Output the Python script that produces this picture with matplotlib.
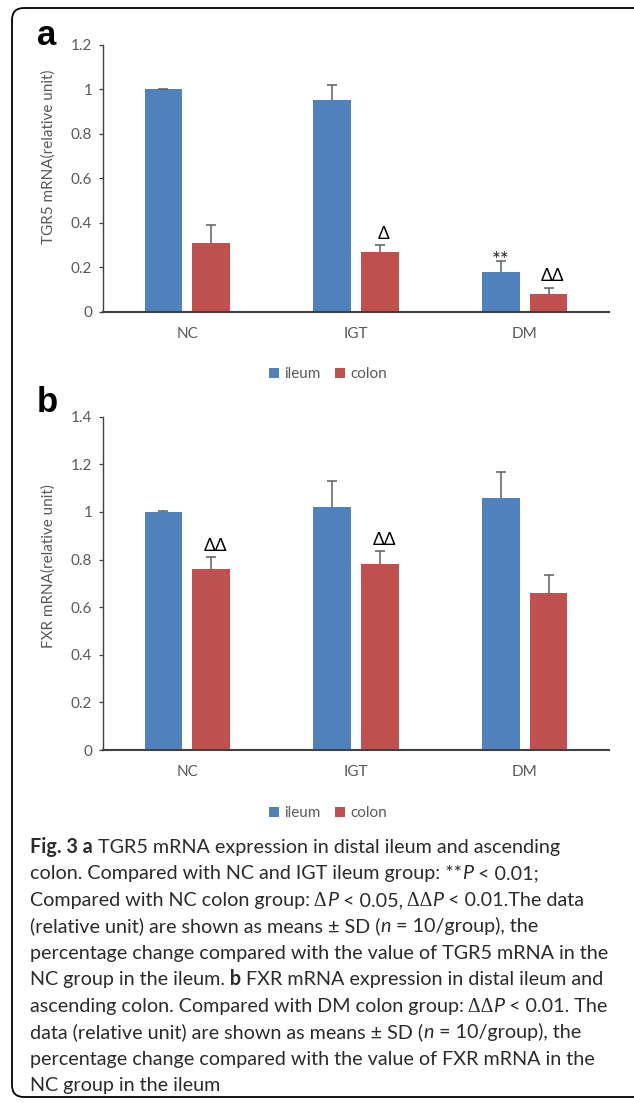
import matplotlib
matplotlib.use('Agg')
import matplotlib.pyplot as plt
from matplotlib.patches import FancyBboxPatch
import numpy as np

# ---------------- data ----------------
groups = ['NC', 'IGT', 'DM']
series_names = ['ileum', 'colon']

tgr5_ileum = [1.00, 0.95, 0.18]
tgr5_ileum_sd = [0.003, 0.07, 0.05]
tgr5_colon = [0.31, 0.27, 0.08]
tgr5_colon_sd = [0.08, 0.03, 0.028]
tgr5_ticks = [0, 0.2, 0.4, 0.6, 0.8, 1.0, 1.2]
tgr5_marks_ileum = ['', '', '**']
tgr5_marks_colon = ['', 'Δ', 'ΔΔ']

fxr_ileum = [1.00, 1.02, 1.06]
fxr_ileum_sd = [0.003, 0.11, 0.11]
fxr_colon = [0.76, 0.78, 0.66]
fxr_colon_sd = [0.05, 0.055, 0.075]
fxr_ticks = [0, 0.2, 0.4, 0.6, 0.8, 1.0, 1.2, 1.4]
fxr_marks_ileum = ['', '', '']
fxr_marks_colon = ['ΔΔ', 'ΔΔ', '']

caption_lines = [
    [("Fig. 3 a", "b"), (" TGR5 mRNA expression in distal ileum and ascending", "r")],
    [("colon. Compared with NC and IGT ileum group: **", "r"), ("P", "i"), (" < 0.01;", "r")],
    [("Compared with NC colon group:", "r"), (" Δ", "d"), ("P", "i"), (" < 0.05,", "r"),
     (" ΔΔ", "d"), ("P", "i"), (" < 0.01.The data", "r")],
    [("(relative unit) are shown as means ± SD (", "r"), ("n", "i"), (" = 10/group), the", "r")],
    [("percentage change compared with the value of TGR5 mRNA in the", "r")],
    [("NC group in the ileum.", "r"), (" b", "b"), (" FXR mRNA expression in distal ileum and", "r")],
    [("ascending colon. Compared with DM colon group:", "r"), (" ΔΔ", "d"), ("P", "i"), (" < 0.01. The", "r")],
    [("data (relative unit) are shown as means ± SD (", "r"), ("n", "i"), (" = 10/group), the", "r")],
    [("percentage change compared with the value of FXR mRNA in the", "r")],
    [("NC group in the ileum", "r")],
]

# ---------------- style ----------------
W, H = 634, 1103
BLUE = '#4F81BD'
RED = '#C0504D'
GRAY = '#595959'
AXC = '#404040'
FONT = ['Lato', 'DejaVu Sans']
CHART_FS = 11
plt.rcParams['font.family'] = FONT

fig = plt.figure(figsize=(W / 100, H / 100), dpi=100)
fig.patch.set_facecolor('white')


def px_axes(left, top, right, bottom):
    return fig.add_axes([left / W, 1 - bottom / H, (right - left) / W, (bottom - top) / H])


def plus_only_bars(ax, xpos, vals, sds, color, label):
    ekw = dict(ecolor='#5f5f5f', elinewidth=1.1, capsize=3.4, capthick=1.1)
    zeros = np.zeros(len(vals))
    cont = ax.bar(xpos, vals, 0.223, color=color, label=label,
                  yerr=[zeros, sds], error_kw=ekw, zorder=2)
    # hide the lower caps (Excel shows plus direction only)
    if cont.errorbar is not None:
        _, caplines, _ = cont.errorbar.lines
        for cl in caplines:
            if np.allclose(np.asarray(cl.get_ydata(), float), np.asarray(vals, float)):
                cl.set_visible(False)
    return cont


def draw_panel(ax, ileum, ileum_sd, colon, colon_sd, ticks, marks_i, marks_c, ylabel, label_y):
    x = np.arange(len(groups))
    off = 0.1416
    plus_only_bars(ax, x - off, ileum, ileum_sd, BLUE, series_names[0])
    plus_only_bars(ax, x + off, colon, colon_sd, RED, series_names[1])
    ax.set_xlim(-0.5, len(groups) - 0.5)
    ax.set_ylim(0, ticks[-1])
    ax.set_yticks(ticks)
    ax.set_yticklabels([f"{t:g}" for t in ticks])
    ax.set_xticks(x)
    ax.set_xticklabels(groups)
    for s in ['top', 'right']:
        ax.spines[s].set_visible(False)
    ax.spines['left'].set_color(AXC)
    ax.spines['left'].set_linewidth(1.0)
    ax.spines['bottom'].set_color(AXC)
    ax.spines['bottom'].set_linewidth(1.5)
    ax.tick_params(axis='x', length=0, pad=11, labelsize=CHART_FS, labelcolor=GRAY)
    ax.tick_params(axis='y', direction='out', length=3.2, width=0.9, color=AXC,
                   pad=4.5, labelsize=CHART_FS, labelcolor=GRAY)
    ax.set_ylabel(ylabel, fontsize=CHART_FS, color=GRAY, va='center')
    ax.yaxis.set_label_coords(-0.1067, label_y)
    for pos, vals, sds, marks, dx in ((x - off, ileum, ileum_sd, marks_i, 0),
                                      (x + off, colon, colon_sd, marks_c, 3)):
        for xi, v, sd, m in zip(pos, vals, sds, marks):
            if not m:
                continue
            if m.startswith('*'):
                ax.annotate(m, (xi, v + sd), xytext=(0, -5), textcoords='offset points',
                            ha='center', va='baseline', fontsize=15, color='#222222')
            else:
                ax.annotate(m, (xi, v + sd), xytext=(dx, 4.5), textcoords='offset points',
                            ha='center', va='baseline', fontsize=12.5, color='black')
    h, l = ax.get_legend_handles_labels()
    return h, l


legend_kw = dict(loc='center', bbox_transform=fig.transFigure, ncol=2, frameon=False,
                 fontsize=CHART_FS, handlelength=0.65, handleheight=0.65, handletextpad=0.3,
                 columnspacing=1.0, labelcolor=GRAY)

ax_a = px_axes(103, 44.7, 609, 311.7)
ha_, la_ = draw_panel(ax_a, tgr5_ileum, tgr5_ileum_sd, tgr5_colon, tgr5_colon_sd, tgr5_ticks,
                      tgr5_marks_ileum, tgr5_marks_colon, 'TGR5 mRNA(relative unit)', 0.58)
ax_a.legend(ha_, la_, bbox_to_anchor=(328 / W, 1 - 374 / H), **legend_kw)

ax_b = px_axes(103, 416.8, 609, 750)
hb_, lb_ = draw_panel(ax_b, fxr_ileum, fxr_ileum_sd, fxr_colon, fxr_colon_sd, fxr_ticks,
                      fxr_marks_ileum, fxr_marks_colon, 'FXR mRNA(relative unit)', 0.552)
ax_b.legend(hb_, lb_, bbox_to_anchor=(328 / W, 1 - 813 / H), **legend_kw)

# ---------------- overlay (pixel coordinates) ----------------
ov = fig.add_axes([0, 0, 1, 1])
ov.set_xlim(0, W)
ov.set_ylim(H, 0)
ov.axis('off')

frame = FancyBboxPatch((12, 8), 660, 1089, boxstyle='round,pad=0,rounding_size=12',
                       fill=False, lw=1.3, ec='black')
ov.add_patch(frame)

ov.text(37, 45, 'a', fontsize=25, fontweight='bold', family='Liberation Sans',
        ha='left', va='baseline')
ov.text(37, 412, 'b', fontsize=25, fontweight='bold', family='Liberation Sans',
        ha='left', va='baseline')

renderer = fig.canvas.get_renderer()
styles = {
    'r': dict(family=FONT),
    'b': dict(family=FONT, fontweight='bold'),
    'i': dict(family=FONT, fontstyle='italic'),
    'd': dict(family=['Liberation Serif', 'DejaVu Serif']),
}
probe = ov.text(0, 0, caption_lines[4][0][0], fontsize=10, **styles['r'])
wprobe = probe.get_window_extent(renderer).width
probe.remove()
cap_size = 10 * 580 / wprobe

cap_left = 30
base0 = 853
step = 26.44
for i, segs in enumerate(caption_lines):
    xx = cap_left
    yy = base0 + i * step
    for txt, st in segs:
        t = ov.text(xx, yy, txt, fontsize=cap_size, ha='left', va='baseline',
                    color='#2b2b2b', **styles[st])
        xx += t.get_window_extent(renderer).width

fig.savefig('out.png', dpi=100, facecolor='white')
